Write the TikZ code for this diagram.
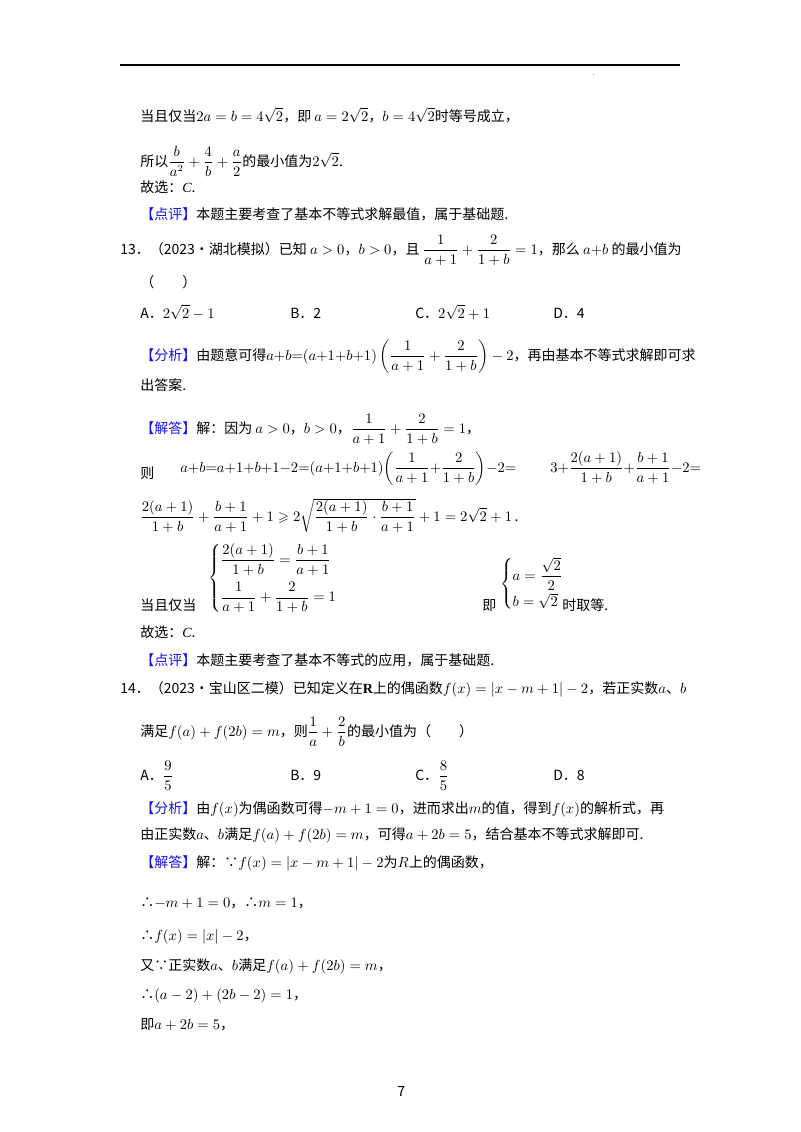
\documentclass[tikz,border=0pt]{standalone}
\usepackage{amsmath,amssymb}
\usepackage{fontspec}
\setmainfont{Liberation Serif}
\newfontfamily\cjk{Noto Sans CJK SC}
\definecolor{hl}{RGB}{20,20,235}
\newcommand\hb[1]{\textcolor{hl}{#1}}
\begin{document}
\begin{tikzpicture}[x=0.75pt,y=-0.75pt,
  t/.style={anchor=base west,inner sep=0,font=\cjk\fontsize{10.5}{12}\selectfont},
  m/.style={anchor=west,inner sep=0,font=\fontsize{10.5}{12}\selectfont}]
\useasboundingbox (0,0) rectangle (800,1132);
\draw[line width=0.8pt] (120,65) coordinate (r1) -- (680,65) coordinate (r2);
\node[inner sep=0,font=\tiny] (dot) at (594,75) {.};
\node[t] (l1) at (140,121) {当且仅当$2a=b=4\sqrt2$，即 $a=2\sqrt2$，$b=4\sqrt2$时等号成立，};
\node[t] (l2) at (140,166) {所以$\dfrac{b}{a^2}+\dfrac4b+\dfrac a2$的最小值为$2\sqrt2$.};
\node[t] (l3) at (140,192) {故选：{\rmfamily\itshape C}.};
\node[t] (l4) at (140,219) {\hb{【点评】}本题主要考查了基本不等式求解最值，属于基础题.};
\node[t] (l5) at (120,254) {13．（2023•湖北模拟）已知 $a>0$，$b>0$，且 $\dfrac1{a+1}+\dfrac2{1+b}=1$，那么 $a{+}b$ 的最小值为};
\node[t] (l6) at (140,287) {（\quad\quad）};
\node[t] (oA) at (140,318) {A．$2\sqrt2-1$};
\node[t] (oB) at (290,318) {B．2};
\node[t] (oC) at (415,318) {C．$2\sqrt2+1$};
\node[t] (oD) at (553,318) {D．4};
\node[t] (l7) at (140,360) {\hb{【分析】}由题意可得$a{+}b{=}(a{+}1{+}b{+}1)\left(\dfrac1{a+1}+\dfrac2{1+b}\right)-2$，再由基本不等式求解即可求};
\node[t] (l8) at (140,390) {出答案.};
\node[t] (l9) at (140,433) {\hb{【解答】}解：因为 $a>0$，$b>0$，$\dfrac1{a+1}+\dfrac2{1+b}=1$，};
\node[t] (l10) at (140,478) {则};
\node[t] (l10a) at (180,472) {$a{+}b{=}a{+}1{+}b{+}1{-}2{=}(a{+}1{+}b{+}1)\!\left(\dfrac1{a+1}{+}\dfrac2{1+b}\right)\!{-}2{=}$};
\node[t] (l10b) at (550,472) {$3{+}\dfrac{2(a+1)}{1+b}{+}\dfrac{b+1}{a+1}{-}2{=}$};
\node[t] (l11) at (140,521) {$\dfrac{2(a+1)}{1+b}+\dfrac{b+1}{a+1}+1\geqslant2\sqrt{\dfrac{2(a+1)}{1+b}\cdot\dfrac{b+1}{a+1}}+1=2\sqrt2+1$\,.};
\node[t] (l12) at (140,610) {当且仅当};
\node[m] (c1) at (208,578) {$\left\{\begin{array}{@{}l@{}}\dfrac{2(a+1)}{1+b}=\dfrac{b+1}{a+1}\\[10pt]\dfrac1{a+1}+\dfrac2{1+b}=1\end{array}\right.$};
\node[t] (l13) at (482,610) {即};
\node[m] (c2) at (500,584) {$\left\{\begin{array}{@{}l@{}}a=\dfrac{\sqrt2}{2}\\[6pt] b=\sqrt2\end{array}\right.$};
\node[t] (l14) at (562,610) {时取等.};
\node[t] (l15) at (140,637) {故选：{\rmfamily\itshape C}.};
\node[t] (l16) at (140,665) {\hb{【点评】}本题主要考查了基本不等式的应用，属于基础题.};
\node[t] (l17) at (120,693) {14．（2023•宝山区二模）已知定义在{\rmfamily\bfseries R}上的偶函数$f(x)=|x-m+1|-2$，若正实数$a$、$b$};
\node[t] (l18) at (140,736) {满足$f(a)+f(2b)=m$，则$\dfrac1a+\dfrac2b$的最小值为（\qquad）};
\node[t] (pA) at (140,780) {A．$\dfrac95$};
\node[t] (pB) at (290,780) {B．9};
\node[t] (pC) at (415,780) {C．$\dfrac85$};
\node[t] (pD) at (553,780) {D．8};
\node[t] (l19) at (140,813) {\hb{【分析】}由$f(x)$为偶函数可得$-m+1=0$，进而求出$m$的值，得到$f(x)$的解析式，再};
\node[t] (l20) at (140,839) {由正实数$a$、$b$满足$f(a)+f(2b)=m$，可得$a+2b=5$，结合基本不等式求解即可.};
\node[t] (l21) at (140,867) {\hb{【解答】}解：∵$f(x)=|x-m+1|-2$为$R$上的偶函数，};
\node[t] (l22) at (140,907) {∴$-m+1=0$，∴$m=1$，};
\node[t] (l23) at (140,940) {∴$f(x)=|x|-2$，};
\node[t] (l24) at (140,970) {又∵正实数$a$、$b$满足$f(a)+f(2b)=m$，};
\node[t] (l25) at (140,999) {∴$(a-2)+(2b-2)=1$，};
\node[t] (l26) at (140,1029) {即$a+2b=5$，};
\node[t] (pg) at (397,1096) {7};
\end{tikzpicture}
\end{document}
